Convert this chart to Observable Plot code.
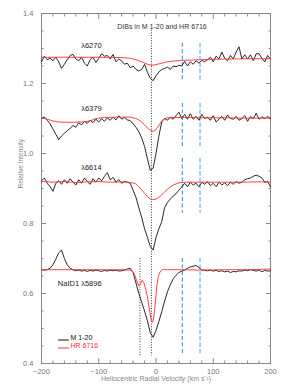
<!DOCTYPE html>
<html><head><meta charset="utf-8">
<script src="https://cdn.jsdelivr.net/npm/d3@7"></script>
<script src="https://cdn.jsdelivr.net/npm/@observablehq/plot@0.6"></script>
<style>html,body{margin:0;padding:0;background:#fff}#chart svg{display:block}</style>
</head><body><div id="chart"></div>
<script>
// Velocity grid of the M 1-20 spectra (km/s)
const vel = [-200,-195,-190,-185,-180,-175,-170,-165,-160,-155,-150,-145,-140,-135,-130,-125,-120,-115,-110,-105,-100,-95,-90,-85,-80,-75,-70,-65,-60,-55,-50,-45,-40,-35,-30,-25,-20,-15,-10,-5,0,5,10,15,20,25,30,35,40,45,50,55,60,65,70,75,80,85,90,95,100,105,110,115,120,125,130,135,140,145,150,155,160,165,170,175,180,185,190,195,200];

// M 1-20 (black)
const m6270 = [1.262,1.278,1.268,1.272,1.265,1.275,1.262,1.243,1.255,1.268,
1.280,1.283,1.270,1.265,1.275,1.258,1.250,1.268,1.275,1.260,
1.272,1.285,1.278,1.280,1.270,1.283,1.262,1.270,1.265,1.255,
1.258,1.245,1.250,1.240,1.236,1.240,1.255,1.232,1.215,1.208,
1.222,1.233,1.240,1.243,1.247,1.240,1.250,1.248,1.252,1.250,
1.263,1.250,1.262,1.255,1.265,1.258,1.266,1.262,1.268,1.275,
1.262,1.278,1.270,1.290,1.272,1.265,1.280,1.270,1.290,1.305,
1.270,1.282,1.270,1.282,1.265,1.285,1.285,1.272,1.262,1.280,
1.270];
const m6379 = [1.100,1.105,1.095,1.085,1.070,1.055,1.040,1.050,1.058,1.065,
1.072,1.080,1.075,1.088,1.082,1.092,1.086,1.095,1.088,1.098,
1.090,1.100,1.092,1.102,1.095,1.104,1.096,1.108,1.098,1.103,
1.096,1.094,1.085,1.075,1.062,1.045,1.020,0.985,0.952,0.958,
1.000,1.050,1.090,1.100,1.095,1.104,1.098,1.108,1.118,1.100,
1.112,1.098,1.114,1.098,1.106,1.095,1.112,1.100,1.104,1.095,
1.108,1.090,1.098,1.106,1.095,1.110,1.100,1.098,1.106,1.095,
1.100,1.108,1.092,1.105,1.100,1.115,1.098,1.105,1.100,1.106,
1.100];
const m6614 = [0.922,0.930,0.915,0.905,0.892,0.915,0.922,0.912,0.925,0.915,
0.928,0.918,0.910,0.925,0.915,0.930,0.920,0.912,0.928,0.918,
0.930,0.922,0.935,0.945,0.925,0.932,0.918,0.925,0.915,0.920,
0.918,0.915,0.895,0.875,0.845,0.818,0.785,0.760,0.735,0.724,
0.760,0.785,0.805,0.845,0.860,0.870,0.878,0.885,0.895,0.904,
0.915,0.905,0.918,0.910,0.915,0.905,0.918,0.912,0.920,0.908,
0.915,0.905,0.918,0.910,0.916,0.908,0.918,0.912,0.920,0.915,
0.918,0.925,0.928,0.930,0.935,0.938,0.935,0.930,0.918,0.920,
0.905];
const mNaD = [0.668,0.667,0.668,0.672,0.682,0.698,0.716,0.724,0.700,0.682,
0.672,0.668,0.665,0.667,0.664,0.666,0.663,0.666,0.664,0.667,
0.665,0.663,0.666,0.664,0.667,0.665,0.667,0.664,0.665,0.667,
0.670,0.672,0.660,0.630,0.600,0.575,0.550,0.522,0.488,0.475,
0.494,0.520,0.548,0.578,0.605,0.625,0.642,0.652,0.660,0.664,
0.667,0.672,0.676,0.678,0.680,0.674,0.667,0.666,0.665,0.667,
0.664,0.666,0.663,0.665,0.662,0.664,0.660,0.663,0.662,0.665,
0.664,0.667,0.665,0.668,0.666,0.664,0.667,0.662,0.666,0.664,
0.665];

// HR 6716 (red)
const velR6270 = [-200,-100,-60,-45,-35,-25,-15,-8,0,10,20,30,45,80,120,200];
const r6270   = [1.275,1.275,1.274,1.272,1.268,1.262,1.255,1.252,1.254,1.258,1.262,1.264,1.266,1.268,1.270,1.271];
const velR6379 = [-200,-190,-180,-170,-150,-130,-115,-105,-90,-60,-45,-35,-30,-25,-20,-15,-10,-5,0,5,10,15,20,30,50,80,120,160,200];
const r6379   = [1.101,1.098,1.093,1.090,1.089,1.090,1.093,1.100,1.103,1.104,1.104,1.100,1.096,1.090,1.082,1.073,1.066,1.063,1.068,1.080,1.093,1.100,1.102,1.103,1.103,1.102,1.102,1.101,1.101];
const velR6614 = [-200,-180,-160,-140,-120,-100,-80,-60,-50,-40,-35,-30,-25,-20,-15,-10,-5,0,5,10,15,20,30,40,50,70,100,140,180,200];
const r6614   = [0.920,0.918,0.920,0.917,0.919,0.920,0.918,0.919,0.918,0.916,0.913,0.905,0.896,0.886,0.877,0.870,0.868,0.870,0.875,0.882,0.890,0.898,0.910,0.916,0.918,0.918,0.918,0.918,0.919,0.918];
const velRNaD = [-200,-150,-100,-60,-45,-40,-36,-33,-30,-27,-24,-21,-18,-15,-12,-10,-8,-6,-4,-2,0,2,4,6,8,11,15,20,40,80,120,160,200];
const rNaD    = [0.668,0.668,0.668,0.668,0.667,0.662,0.648,0.633,0.622,0.628,0.638,0.630,0.613,0.590,0.560,0.540,0.520,0.518,0.530,0.560,0.595,0.628,0.648,0.658,0.664,0.668,0.669,0.668,0.668,0.667,0.668,0.668,0.670];

// Spectral labels
const bandNames = ["λ6270","λ6379","λ6614","NaID1 λ5896"];
const labelVel  = [-95,-95,-95,-95];
const labelInt  = [1.309,1.129,0.960,0.628];

// Reference velocities
const dotVel = [-8,-28];
const dotTop = [1.352,0.700];
const dotBot = [0.422,0.422];
const dashVel = [46,77];
const segTop = [1.315,1.143,0.986,0.700];
const segBot = [1.209,1.020,0.829,0.422];

const seriesNames = ["M 1-20","HR 6716"];
const xMajor = [-200,-100,0,100,200];
const xMinor = [-180,-160,-140,-120,-80,-60,-40,-20,20,40,60,80,120,140,160,180];
const yMajor = [0.4,0.6,0.8,1.0,1.2,1.4];
const yMinor = [0.45,0.5,0.55,0.65,0.7,0.75,0.85,0.9,0.95,1.05,1.1,1.15,1.25,1.3,1.35];

const black = [];
[m6270,m6379,m6614,mNaD].forEach((arr,k)=>arr.forEach((I,i)=>black.push({v:vel[i],I,band:bandNames[k]})));
const red = [];
[[velR6270,r6270],[velR6379,r6379],[velR6614,r6614],[velRNaD,rNaD]].forEach(([vv,arr],k)=>arr.forEach((I,i)=>red.push({v:vv[i],I,band:bandNames[k]})));
const dots = dotVel.map((v,i)=>({v,top:dotTop[i],bot:dotBot[i]}));
const dashes = [];
dashVel.forEach((v,j)=>segTop.forEach((t,i)=>dashes.push({v,top:t,bot:segBot[i],j})));

const RED = "#ff2e2e", BLK = "#111";
const lineShape = {draw(ctx,l){ctx.moveTo(0,0);ctx.lineTo(0,-l);}};
const tickOpts = {tickFormat: ()=>"", label: null, stroke: "#888"};

const chart = Plot.plot({
  width: 283, height: 390,
  marginLeft: 41, marginRight: 13, marginTop: 13, marginBottom: 27,
  style: {fontFamily: "'Liberation Sans', Arial, sans-serif", fontSize: "7px", background: "#fff"},
  x: {domain: [-200,200]},
  y: {domain: [0.4,1.4]},
  marks: [
    Plot.axisX(xMinor, {anchor:"bottom", tickSize:-2.5, ...tickOpts}),
    Plot.axisX(xMajor, {anchor:"bottom", tickSize:-5, ...tickOpts}),
    Plot.axisX(xMinor, {anchor:"top", tickSize:-2.5, ...tickOpts}),
    Plot.axisX(xMajor, {anchor:"top", tickSize:-5, ...tickOpts}),
    Plot.axisY(yMinor, {anchor:"left", tickSize:-2.5, ...tickOpts}),
    Plot.axisY(yMajor, {anchor:"left", tickSize:-5, ...tickOpts}),
    Plot.axisY(yMinor, {anchor:"right", tickSize:-2.5, ...tickOpts}),
    Plot.axisY(yMajor, {anchor:"right", tickSize:-5, ...tickOpts}),
    Plot.axisX(xMajor, {anchor:"bottom", tickSize:0, tickPadding:5, label:null, fill:"#777", fontSize:7.5}),
    Plot.axisY(yMajor, {anchor:"left", tickSize:0, tickPadding:8, tickFormat:d3.format(".1f"), label:null, fill:"#777", fontSize:7.5}),
    Plot.frame({stroke:"#888"}),
    Plot.ruleX(dots, {x:"v", y1:"top", y2:"bot", stroke:"#333", strokeDasharray:"1,1.6", strokeWidth:1}),
    Plot.ruleX(dashes.filter(d=>d.j===0), {x:"v", y1:"top", y2:"bot", stroke:"#3d93dc", strokeDasharray:"4,2.5", strokeWidth:1.1}),
    Plot.ruleX(dashes.filter(d=>d.j===1), {x:"v", y1:"top", y2:"bot", stroke:"#9fd2f2", strokeDasharray:"4.5,2", strokeWidth:2}),
    Plot.line(black, {x:"v", y:"I", z:"band", stroke:BLK, strokeWidth:0.9}),
    Plot.line(red, {x:"v", y:"I", z:"band", stroke:RED, strokeWidth:0.9}),
    Plot.text(bandNames, {x:labelVel, y:labelInt, text:d=>d, textAnchor:"end", fill:"#222", fontSize:7.5}),
    Plot.text(["DIBs in M 1-20 and HR 6716"], {frameAnchor:"top", dx:6, dy:11, fill:"#333", fontSize:7}),
    Plot.text(["Relative Intensity"], {frameAnchor:"left", dx:-21, rotate:-90, fill:"#888", fontSize:6.5}),
    Plot.text(["Heliocentric Radial Velocity (km s⁻¹)"], {frameAnchor:"bottom", dy:17, fill:"#888", fontSize:7}),
    Plot.vector([seriesNames[0]], {frameAnchor:"bottom-left", dx:17, dy:-23.5, rotate:90, length:10, anchor:"start", shape:lineShape, stroke:BLK, strokeWidth:1}),
    Plot.vector([seriesNames[1]], {frameAnchor:"bottom-left", dx:17, dy:-15.5, rotate:90, length:10, anchor:"start", shape:lineShape, stroke:RED, strokeWidth:1}),
    Plot.text([seriesNames[0]], {frameAnchor:"bottom-left", dx:29, dy:-24, textAnchor:"start", fill:BLK, fontSize:7}),
    Plot.text([seriesNames[1]], {frameAnchor:"bottom-left", dx:29, dy:-16, textAnchor:"start", fill:RED, fontSize:7})
  ]
});
document.getElementById("chart").appendChild(chart);
</script>
</body></html>
